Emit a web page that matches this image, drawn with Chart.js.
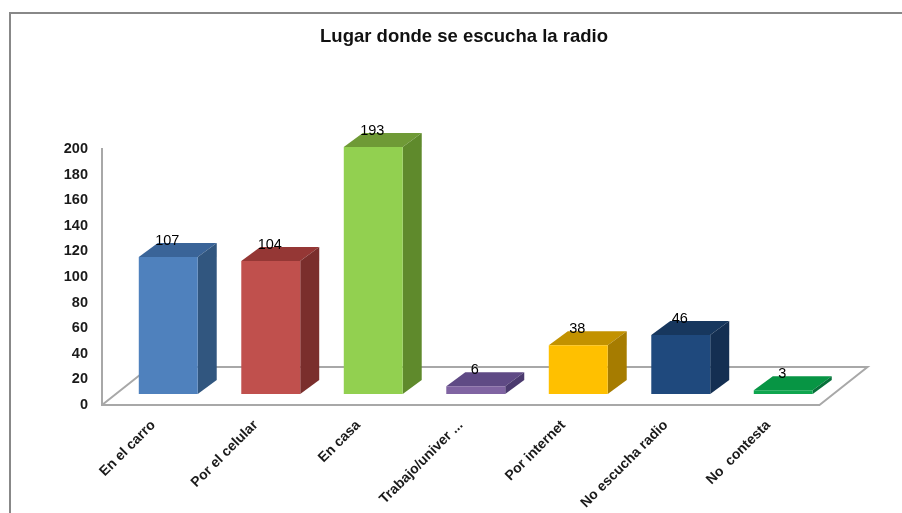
<!DOCTYPE html>
<html>
<head>
<meta charset="utf-8">
<title>Lugar donde se escucha la radio</title>
<script src="https://cdn.jsdelivr.net/npm/chart.js@4"></script>
<style>
    body { margin: 0; background: #fff; }
    canvas { display: block; }
</style>
</head>
<body>
<canvas id="myChart" width="902" height="513"></canvas>
<script>
let chartTitle = "Lugar donde se escucha la radio";
let categories = [
    "En el carro", "Por el celular", "En casa", "Trabajo/univer ...",
    "Por internet", "No escucha radio", "No  contesta"
];
let listeners = [107, 104, 193, 6, 38, 46, 3];

let frontColors = ["#4f81bd", "#c0504d", "#92d050", "#8064a2", "#ffc000", "#1f497d", "#0fa64f"];
let topColors   = ["#3a6498", "#953735", "#6f9a36", "#5f4a85", "#c29200", "#17375e", "#079544"];
let sideColors  = ["#31567f", "#7a2e2c", "#5f8a2c", "#4b3a6e", "#a67c00", "#142f52", "#07703a"];

// the bars stand inside the floor, the floor goes further back than they do
let floorDepth = { x: 48, y: -38 };
let barOffset = { x: 15, y: -11 };
let barDepth = { x: 19, y: -14 };

let fontName = '"Liberation Sans", Arial, sans-serif';
let lineColor = "#a8a8a8";

function polygon(ctx, color, points) {
    ctx.fillStyle = color;
    ctx.beginPath();
    ctx.moveTo(points[0][0], points[0][1]);
    for (let i = 1; i < points.length; i++) {
        ctx.lineTo(points[i][0], points[i][1]);
    }
    ctx.closePath();
    ctx.fill();
}

let frame3d = {
    id: "frame3d",
    beforeDraw(chart) {
        // grey frame on the left and top only
        let ctx = chart.ctx;
        ctx.save();
        ctx.fillStyle = "#888888";
        ctx.fillRect(9, 12, 902 - 9, 2);
        ctx.fillRect(9, 12, 2, 513 - 12);
        ctx.fillStyle = "#111";
        ctx.font = "bold 18.5px " + fontName;
        ctx.textAlign = "center";
        ctx.textBaseline = "middle";
        ctx.fillText(chartTitle, 464, 37);
        ctx.restore();
    },
    beforeDatasetsDraw(chart) {
        let ctx = chart.ctx;
        let area = chart.chartArea;
        ctx.save();

        // floor outline
        ctx.strokeStyle = lineColor;
        ctx.lineWidth = 2;
        ctx.beginPath();
        ctx.moveTo(area.left, area.bottom);
        ctx.lineTo(area.left + floorDepth.x, area.bottom + floorDepth.y);
        ctx.lineTo(area.right + floorDepth.x, area.bottom + floorDepth.y);
        ctx.lineTo(area.right, area.bottom);
        ctx.stroke();

        // top and side faces of each bar
        chart.getDatasetMeta(0).data.forEach(function(bar, i) {
            let left = bar.x - bar.width / 2 + barOffset.x;
            let right = bar.x + bar.width / 2 + barOffset.x;
            let top = bar.y + barOffset.y;
            let bottom = bar.base + barOffset.y;
            polygon(ctx, topColors[i], [
                [left, top], [right, top],
                [right + barDepth.x, top + barDepth.y],
                [left + barDepth.x, top + barDepth.y]
            ]);
            polygon(ctx, sideColors[i], [
                [right, top], [right + barDepth.x, top + barDepth.y],
                [right + barDepth.x, bottom + barDepth.y], [right, bottom]
            ]);
        });
        ctx.restore();
    },
    beforeDatasetDraw(chart) {
        // front faces come from the bar elements, moved onto the floor
        chart.ctx.save();
        chart.ctx.translate(barOffset.x, barOffset.y);
    },
    afterDatasetDraw(chart) {
        chart.ctx.restore();
    },
    afterDatasetsDraw(chart) {
        let ctx = chart.ctx;
        ctx.save();
        ctx.fillStyle = "#000";
        ctx.font = "14.5px " + fontName;
        ctx.textAlign = "center";
        ctx.textBaseline = "middle";
        chart.getDatasetMeta(0).data.forEach(function(bar, i) {
            ctx.fillText(listeners[i], bar.x + barOffset.x - 1, bar.y + barOffset.y - 16);
        });
        ctx.restore();
    }
};

let ctx = document.getElementById("myChart").getContext("2d");
let chart = new Chart(ctx, {
    type: "bar",
    plugins: [frame3d],
    data: {
        labels: categories,
        datasets: [{
            data: listeners,
            backgroundColor: frontColors,
            borderWidth: 0,
            barPercentage: 0.575,
            categoryPercentage: 1,
            clip: false
        }]
    },
    options: {
        responsive: false,
        animation: false,
        layout: { padding: { top: 149, right: 82.5, left: 0, bottom: 0 } },
        plugins: {
            legend: { display: false },
            tooltip: { enabled: false }
        },
        scales: {
            x: {
                grid: { display: false, drawTicks: false },
                border: { color: lineColor, width: 2 },
                ticks: {
                    autoSkip: false,
                    minRotation: 45,
                    maxRotation: 45,
                    padding: 12,
                    color: "#1a1a1a",
                    font: { family: fontName, size: 14, weight: "bold" }
                },
                afterFit(scale) { scale.height = 108; }
            },
            y: {
                min: 0,
                max: 200,
                grid: { display: false, drawTicks: false },
                border: { color: lineColor, width: 2 },
                ticks: {
                    stepSize: 20,
                    padding: 14,
                    color: "#1a1a1a",
                    font: { family: fontName, size: 14.5, weight: "bold" }
                },
                afterFit(scale) { scale.width = 102; }
            }
        }
    }
});
</script>
</body>
</html>
